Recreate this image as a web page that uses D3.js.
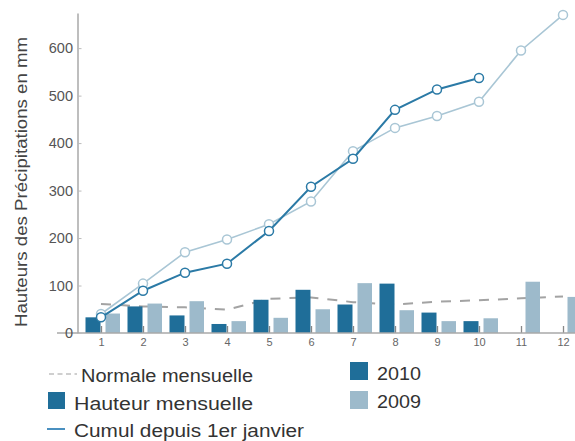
<!DOCTYPE html>
<html><head><meta charset="utf-8">
<script src="https://cdn.jsdelivr.net/npm/d3@7"></script>
<style>body{margin:0;background:#fff}svg{display:block}</style>
</head><body>
<svg id="c" width="575" height="441"></svg>
<script>
const months = ["1","2","3","4","5","6","7","8","9","10","11","12"];
const yTicks = [0, 100, 200, 300, 400, 500, 600];
const normale = [61, 56, 54, 49, 72, 75, 65, 60, 66, 69, 73, 77];
const hauteur2010 = [33, 56, 37, 19, 70, 91, 60, 104, 43, 25];
const hauteur2009 = [41, 62, 67, 25, 32, 50, 105, 48, 25, 31, 108, 76];
const cumul2010 = [33, 89, 127, 146, 215, 308, 367, 470, 513, 537];
const cumul2009 = [40, 104, 170, 197, 229, 277, 383, 432, 457, 487, 595, 670];
const yTitle = "Hauteurs des Précipitations en mm";
const legendLeft = ["Normale mensuelle", "Hauteur mensuelle", "Cumul depuis 1er janvier"];
const legendRight = ["2010", "2009"];

const C = {dark:"#1f6e99", light:"#9dbacb", lineDark:"#2b7aa6", lineLight:"#a9c6d5", norm:"#a3a3a3", axis:"#a8a8a8"};
const FONT = "Liberation Sans, Arial, Helvetica, sans-serif";

const svg = d3.select("#c");
const x = d3.scalePoint().domain(months).range([101, 563]);
const y = d3.scaleLinear().domain([0, 674]).range([333, 13]);

// normale dashed line (behind bars)
svg.append("path")
  .attr("d", d3.line().x((d,i)=>x(months[i])).y(d=>y(d))(normale))
  .attr("fill","none").attr("stroke",C.norm).attr("stroke-width",2)
  .attr("stroke-dasharray","10,9");

// bars
svg.append("g").selectAll("rect").data(hauteur2010).join("rect")
  .attr("x",(d,i)=>x(months[i])-15.5).attr("width",15)
  .attr("y",d=>y(d)).attr("height",d=>y(0)-y(d)).attr("fill",C.dark);
svg.append("g").selectAll("rect").data(hauteur2009).join("rect")
  .attr("x",(d,i)=>x(months[i])+4.5).attr("width",14.5)
  .attr("y",d=>y(d)).attr("height",d=>y(0)-y(d)).attr("fill",C.light);

// x axis
const gx = svg.append("g").attr("transform","translate(0,333)")
  .call(d3.axisBottom(x).tickSizeInner(-7).tickSizeOuter(0).tickPadding(5));
gx.select(".domain").remove();
gx.selectAll(".tick line").attr("stroke","#888").attr("stroke-width",1.3);
gx.selectAll("text").attr("font-family",FONT).attr("font-size",11).attr("fill","#666");
svg.append("line").attr("x1",57).attr("x2",575).attr("y1",333).attr("y2",333)
  .attr("stroke",C.axis).attr("stroke-width",1.5);

// y axis
const gy = svg.append("g").attr("transform","translate(77.5,0)")
  .call(d3.axisLeft(y).tickValues(yTicks).tickSizeInner(-4).tickSizeOuter(0).tickPadding(4.5));
gy.select(".domain").attr("stroke",C.axis).attr("stroke-width",1.5);
gy.selectAll(".tick line").attr("stroke","#bbb");
gy.selectAll("text").attr("font-family",FONT).attr("font-size",14.5).attr("fill","#555");

svg.append("text").attr("transform","translate(27,182) rotate(-90)")
  .attr("text-anchor","middle").attr("font-family",FONT)
  .attr("font-size",16).attr("fill","#444")
  .attr("textLength",290).attr("lengthAdjust","spacingAndGlyphs").text(yTitle);

// cumul lines
function cumLine(data, color, w) {
  svg.append("path")
    .attr("d", d3.line().x((d,i)=>x(months[i])).y(d=>y(d))(data))
    .attr("fill","none").attr("stroke",color).attr("stroke-width",w);
  svg.append("g").selectAll("circle").data(data).join("circle")
    .attr("cx",(d,i)=>x(months[i])).attr("cy",d=>y(d)).attr("r",4.5)
    .attr("fill","#fff").attr("stroke",color).attr("stroke-width",1.5);
}
cumLine(cumul2009, C.lineLight, 1.6);
cumLine(cumul2010, C.lineDark, 2);

// legend
const L = svg.append("g").attr("font-family",FONT).attr("font-size",17.5).attr("fill","#333")
  .attr("lengthAdjust","spacingAndGlyphs");
function ltext(xp, yp, t, len) {
  L.append("text").attr("x",xp).attr("y",yp).attr("textLength",len)
    .attr("lengthAdjust","spacingAndGlyphs").text(t);
}
L.append("line").attr("x1",49).attr("x2",77).attr("y1",374).attr("y2",374)
  .attr("stroke","#cfcfcf").attr("stroke-width",2).attr("stroke-dasharray","5,3.5");
ltext(81, 382, legendLeft[0], 172);
L.append("rect").attr("x",48).attr("y",392).attr("width",17).attr("height",17).attr("fill",C.dark);
ltext(74, 410, legendLeft[1], 179);
L.append("line").attr("x1",47).attr("x2",65).attr("y1",429).attr("y2",429)
  .attr("stroke","#4a90c0").attr("stroke-width",2);
ltext(74, 437, legendLeft[2], 230);
L.append("rect").attr("x",350).attr("y",362).attr("width",18).attr("height",18).attr("fill",C.dark);
ltext(377, 380, legendRight[0], 44);
L.append("rect").attr("x",350).attr("y",391).attr("width",18).attr("height",18).attr("fill",C.light);
ltext(377, 408, legendRight[1], 44);
</script>
</body></html>
